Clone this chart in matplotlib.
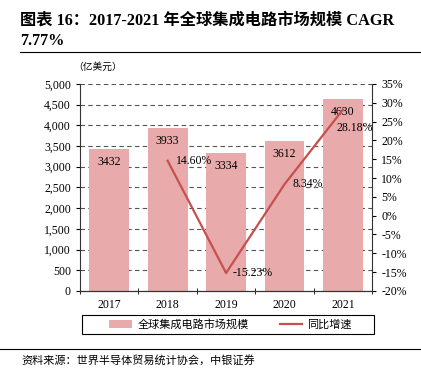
import numpy as np
import matplotlib.pyplot as plt
from matplotlib.ticker import FuncFormatter, FixedLocator
from matplotlib.patches import Rectangle

plt.rcParams['font.family'] = ['Liberation Serif', 'Noto Sans CJK SC']

# 数据
years = ['2017', '2018', '2019', '2020', '2021']
market = [3432, 3933, 3334, 3612, 4630]          # 亿美元
growth = [np.nan, 14.60, -15.23, 8.34, 28.18]    # %
growth_lbl = ['', '14.60%', '-15.23%', '8.34%', '28.18%']

bar_c = '#E8AAAA'
line_c = '#C5504E'

fig = plt.figure(figsize=(4.21, 3.73), dpi=100)
ax = fig.add_axes([0.190, 0.22, 0.694, 0.555])
ax2 = ax.twinx()

x = np.arange(len(years))

# 网格线（左轴）
ax.set_axisbelow(True)
ax.grid(axis='y', linestyle=(0, (4, 3)), color='#555555', linewidth=0.8)

bars = ax.bar(x, market, width=0.68, color=bar_c, label='全球集成电路市场规模', zorder=2)
for xi, v in zip(x, market):
    ax.annotate(str(v), (xi, v), xytext=(0, -5), textcoords='offset points',
                ha='center', va='top', fontsize=8.5)

ax.set_xlim(-0.5, len(years) - 0.5)
ax.set_ylim(0, 5000)
ax.set_yticks(np.arange(0, 5001, 500))
ax.yaxis.set_major_formatter(FuncFormatter(lambda v, p: f'{int(v):,}'))
ax.set_xticks(x)
ax.set_xticklabels(years, fontsize=8.5)
ax.xaxis.set_minor_locator(FixedLocator(np.arange(-0.5, len(years), 1)))
ax.tick_params(axis='x', which='major', length=0, pad=6)
ax.tick_params(axis='x', which='minor', length=4, direction='inout')
ax.tick_params(axis='y', labelsize=8.5, length=3, direction='out')

ax2.plot(x, growth, color=line_c, linewidth=1.6, label='同比增速', zorder=3)
ax2.set_ylim(-20, 35)
ax2.set_yticks(np.arange(-20, 36, 5))
ax2.yaxis.set_major_formatter(FuncFormatter(lambda v, p: f'{int(v)}%'))
ax2.tick_params(axis='y', labelsize=8.5, length=3, direction='out')
ax2.set_zorder(ax.get_zorder() + 1)
ax2.patch.set_visible(False)

offsets = [(0, 0), (6, 0), (5, 0), (6, 0), (-5, -13)]
for xi, g, t, off in zip(x, growth, growth_lbl, offsets):
    if t:
        ax2.annotate(t, (xi, g), xytext=off, textcoords='offset points',
                     ha='left', va='center', fontsize=8.5)

for a in (ax, ax2):
    for s in a.spines.values():
        s.set_visible(False)
    a.spines['bottom'].set_visible(True)
ax.spines['left'].set_visible(True)
ax2.spines['right'].set_visible(True)
for a in (ax, ax2):
    for s in a.spines.values():
        s.set_color('#333333')
        s.set_linewidth(0.8)

fig.text(0.175, 0.82, '（亿美元）', fontsize=7, ha='left', va='center')

# 图例（外框单独画）
h1, l1 = ax.get_legend_handles_labels()
h2, l2 = ax2.get_legend_handles_labels()
leg = fig.legend(h1 + h2, l1 + l2, loc='center', ncol=2,
                 bbox_to_anchor=(0.548, 0.13), fontsize=8, frameon=False,
                 handlelength=2.0, columnspacing=2.8, handletextpad=0.5)
fig.add_artist(Rectangle((0.195, 0.105), 0.693, 0.05, transform=fig.transFigure,
                         fill=False, edgecolor='black', linewidth=0.8))

# 标题
fig.text(0.047, 0.945, '图表 16：2017-2021 年全球集成电路市场规模 CAGR',
         fontsize=11.7, fontweight='bold', ha='left', va='center')
fig.text(0.047, 0.89, '7.77%', fontsize=11.7, fontweight='bold', ha='left', va='center')
fig.add_artist(plt.Line2D([0.047, 1.0], [0.86, 0.86], color='black', linewidth=0.8))

fig.add_artist(plt.Line2D([0.0, 1.0], [0.065, 0.065], color='black', linewidth=0.8))
fig.text(0.05, 0.035, '资料来源：世界半导体贸易统计协会，中银证券', fontsize=8,
         ha='left', va='center')

fig.savefig('out.png', dpi=100)
